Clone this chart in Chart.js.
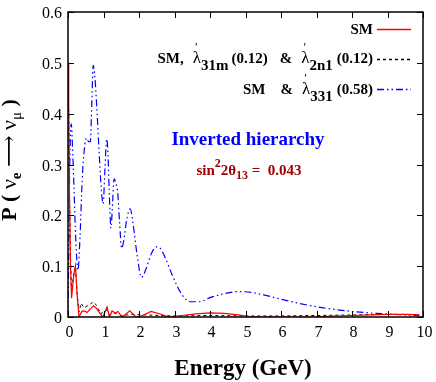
<!DOCTYPE html>
<html>
<head>
<meta charset="utf-8">
<script src="https://cdn.jsdelivr.net/npm/chart.js@4.4.0/dist/chart.umd.min.js"></script>
<style>
  html, body { margin: 0; padding: 0; background: #fff; }
  #wrap { width: 436px; height: 382px; }
</style>
</head>
<body>
<div id="wrap"><canvas id="chart"></canvas></div>
<script>
// tick values
const xTicks = [0, 1, 2, 3, 4, 5, 6, 7, 8, 9, 10];
const yTicks = [0, 0.1, 0.2, 0.3, 0.4, 0.5, 0.6];

// SM
const smEnergy = [0, 0.02, 0.04, 0.07, 0.1, 0.16, 0.21, 0.26, 0.31, 0.39, 0.47, 0.54, 0.63, 0.72, 0.79, 0.86, 0.93, 0.98, 1.04, 1.1, 1.17, 1.24, 1.33, 1.41, 1.52, 1.63, 1.74, 1.84, 1.92, 2.1, 2.34, 2.6, 2.84, 3.2, 3.6, 4.0, 4.4, 4.8, 5.1, 5.5, 6, 6.5, 7, 7.5, 8, 8.5, 9, 9.5, 9.9];
const smProb = [0.5, 0.42, 0.25, 0.1, 0.037, 0.08, 0.1, 0.04, 0.0, 0.011, 0.012, 0.009, 0.016, 0.022, 0.018, 0.011, 0.004, 0.0, 0.01, 0.02, 0.0, 0.012, 0.008, 0.011, 0.0, 0.006, 0.012, 0.005, 0.0, 0.003, 0.011, 0.006, 0.0, 0.003, 0.006, 0.008, 0.007, 0.004, 0.001, 0.0, 0.0, 0.0, 0.0005, 0.002, 0.003, 0.004, 0.005, 0.005, 0.004];

// SM, lambda'31m (0.12) & lambda'2n1 (0.12)
const rpvEnergy = [0, 0.02, 0.04, 0.07, 0.1, 0.16, 0.21, 0.26, 0.31, 0.37, 0.45, 0.55, 0.62, 0.7, 0.78, 0.86, 0.93, 1.0, 1.08, 1.17, 1.3, 1.5, 1.8, 2.2, 2.6, 3, 4, 5, 6, 7, 8, 9, 9.9];
const rpvProb = [0.48, 0.4, 0.25, 0.12, 0.05, 0.085, 0.1, 0.045, 0.01, 0.027, 0.018, 0.022, 0.024, 0.03, 0.025, 0.015, 0.006, 0.012, 0.014, 0.004, 0.008, 0.003, 0.005, 0.004, 0.003, 0.002, 0.003, 0.002, 0.002, 0.003, 0.004, 0.005, 0.005];

// SM & lambda'331 (0.58)
const l331Energy = [0, 0.02, 0.05, 0.09, 0.13, 0.17, 0.22, 0.28, 0.34, 0.4, 0.46, 0.52, 0.58, 0.63, 0.67, 0.71, 0.76, 0.82, 0.88, 0.94, 0.99, 1.04, 1.09, 1.12, 1.16, 1.21, 1.26, 1.3, 1.36, 1.4, 1.45, 1.51, 1.57, 1.65, 1.75, 1.84, 1.95, 2.07, 2.2, 2.35, 2.5, 2.6, 2.75, 2.95, 3.2, 3.45, 3.7, 4.0, 4.4, 4.8, 5.2, 5.6, 6.0, 6.5, 7.0, 7.5, 8.0, 8.5, 9.0, 9.5, 9.9];
const l331Prob = [0.0, 0.12, 0.3, 0.38, 0.33, 0.25, 0.15, 0.092, 0.16, 0.27, 0.33, 0.352, 0.345, 0.345, 0.42, 0.495, 0.47, 0.4, 0.32, 0.25, 0.223, 0.29, 0.35, 0.33, 0.25, 0.175, 0.23, 0.272, 0.26, 0.245, 0.19, 0.135, 0.15, 0.19, 0.213, 0.18, 0.12, 0.078, 0.095, 0.125, 0.138, 0.135, 0.115, 0.08, 0.045, 0.03, 0.03, 0.038, 0.046, 0.05, 0.048, 0.042, 0.035, 0.027, 0.02, 0.015, 0.011, 0.008, 0.006, 0.004, 0.003];

const SERIF = '"Liberation Serif", "DejaVu Serif", serif';
const RED = "#ff0000";
const BLUE = "#0000ff";
const DARKRED = "#a00000";
const DASH_BLUE = [7, 3, 1.5, 3, 1.5, 3];
const DASH_BLACK = [3, 3];

const toPoints = (xs, ys) => xs.map((x, i) => ({ x, y: ys[i] }));

// text made of pieces (sub/superscripts). over = don't advance, pad = extra px after
function richText(ctx, segs, x, y, align, color) {
  let w = 0;
  segs.forEach((s) => {
    ctx.font = `${s.weight || "bold"} ${s.size}px ${SERIF}`;
    if (!s.over) w += ctx.measureText(s.t).width + (s.pad || 0);
  });
  let cx = align === "right" ? x - w : align === "center" ? x - w / 2 : x;
  ctx.textBaseline = "alphabetic";
  ctx.textAlign = "left";
  segs.forEach((s) => {
    ctx.font = `${s.weight || "bold"} ${s.size}px ${SERIF}`;
    ctx.fillStyle = s.color || color;
    ctx.fillText(s.t, cx + (s.dx || 0), y + (s.dy || 0));
    if (!s.over) cx += ctx.measureText(s.t).width + (s.pad || 0);
  });
}

const lam = [
  { t: "λ", size: 17, weight: "normal" },
  { t: "′", size: 12, weight: "normal", dy: -12, dx: -6, over: true },
];

// frame, inward ticks, tick labels, legend, annotations and axis titles
const decorPlugin = {
  id: "decor",
  afterDatasetsDraw(chart) {
    const { ctx, chartArea: a, scales } = chart;
    ctx.save();

    // ticks pointing in, on all four sides, plus labels
    ctx.strokeStyle = "#000";
    ctx.lineWidth = 1;
    ctx.fillStyle = "#000";
    ctx.font = `16px ${SERIF}`;
    const tl = 6;
    xTicks.forEach((v) => {
      const px = Math.round(scales.x.getPixelForValue(v)) + 0.5;
      ctx.beginPath();
      ctx.moveTo(px, a.bottom); ctx.lineTo(px, a.bottom - tl);
      ctx.moveTo(px, a.top); ctx.lineTo(px, a.top + tl);
      ctx.stroke();
      ctx.textAlign = "center";
      ctx.textBaseline = "middle";
      ctx.fillText(String(v), px + 1, a.bottom + 16);
    });
    yTicks.forEach((v) => {
      const py = Math.round(scales.y.getPixelForValue(v)) + 0.5;
      ctx.beginPath();
      ctx.moveTo(a.left, py); ctx.lineTo(a.left + tl, py);
      ctx.moveTo(a.right, py); ctx.lineTo(a.right - tl, py);
      ctx.stroke();
      ctx.textAlign = "right";
      ctx.textBaseline = "middle";
      ctx.fillText(v === 0 ? "0" : v.toFixed(1), a.left - 6, py + 1);
    });
    ctx.lineWidth = 1.5;
    ctx.strokeRect(a.left, a.top, a.right - a.left, a.bottom - a.top);

    // legend
    const rows = [
      { y: 29, base: 34, color: RED, dash: [], segs: [{ t: "SM", size: 15 }] },
      {
        y: 59, base: 63, color: "#000", dash: DASH_BLACK,
        segs: [
          { t: "SM,", size: 15, pad: 9 },
          ...lam,
          { t: "31m", size: 15, dy: 7, pad: 3 },
          { t: "(0.12)", size: 15, pad: 12 },
          { t: "&", size: 15, pad: 9 },
          ...lam,
          { t: "2n1", size: 15, dy: 7, pad: 4 },
          { t: "(0.12)", size: 15 },
        ],
      },
      {
        y: 89, base: 94, color: BLUE, dash: DASH_BLUE,
        segs: [
          { t: "SM", size: 15, pad: 15 },
          { t: "&", size: 15, pad: 9 },
          ...lam,
          { t: "331", size: 15, dy: 7, pad: 4 },
          { t: "(0.58)", size: 15 },
        ],
      },
    ];
    rows.forEach((r) => {
      ctx.save();
      ctx.strokeStyle = r.color;
      ctx.lineWidth = 1.3;
      ctx.setLineDash(r.dash);
      ctx.beginPath();
      ctx.moveTo(377, r.y + 0.5);
      ctx.lineTo(411, r.y + 0.5);
      ctx.stroke();
      ctx.restore();
      richText(ctx, r.segs, 373, r.base, "right", "#000");
    });

    // annotations
    richText(ctx, [{ t: "Inverted hierarchy", size: 19 }], 248, 145, "center", BLUE);
    richText(ctx, [
      { t: "sin", size: 15 },
      { t: "2", size: 12, dy: -8 },
      { t: "2θ", size: 15 },
      { t: "13", size: 12, dy: 4 },
      { t: " =  0.043", size: 15 },
    ], 249, 175, "center", DARKRED);

    // axis titles
    richText(ctx, [{ t: "Energy (GeV)", size: 23 }], 243, 375, "center", "#000");
    ctx.translate(16, 160);
    ctx.rotate(-Math.PI / 2);
    richText(ctx, [
      { t: "P ( ", size: 22 },
      { t: "ν", size: 22, weight: "normal" },
      { t: "e", size: 15, dy: 5 },
      { t: " ⟶ ", size: 22, weight: "normal" },
      { t: "ν", size: 22, weight: "normal" },
      { t: "μ", size: 15, dy: 5, weight: "normal" },
      { t: " )", size: 22 },
    ], 0, 0, "center", "#000");
    ctx.restore();
  },
};

new Chart(document.getElementById("chart"), {
  type: "line",
  data: {
    datasets: [
      {
        label: "SM",
        data: toPoints(smEnergy, smProb),
        borderColor: RED,
        borderWidth: 1.2,
        pointRadius: 0,
        tension: 0,
      },
      {
        label: "SM, λ'31m (0.12) & λ'2n1 (0.12)",
        data: toPoints(rpvEnergy, rpvProb),
        borderColor: "#000",
        borderWidth: 1,
        borderDash: DASH_BLACK,
        pointRadius: 0,
        tension: 0,
      },
      {
        label: "SM & λ'331 (0.58)",
        data: toPoints(l331Energy, l331Prob),
        borderColor: BLUE,
        borderWidth: 1.2,
        borderDash: DASH_BLUE,
        pointRadius: 0,
        cubicInterpolationMode: "monotone",
      },
    ],
  },
  options: {
    responsive: true,
    maintainAspectRatio: false,
    animation: false,
    layout: { padding: { top: 12, right: 13, left: 0, bottom: 0 } },
    plugins: { legend: { display: false }, tooltip: { enabled: false } },
    scales: {
      x: {
        type: "linear",
        min: 0,
        max: 10,
        afterBuildTicks: (s) => { s.ticks = xTicks.map((v) => ({ value: v })); },
        afterFit: (s) => { s.height = 65; },
        grid: { display: false, drawTicks: false },
        border: { display: false },
        ticks: { display: false },
      },
      y: {
        min: 0,
        max: 0.6,
        afterBuildTicks: (s) => { s.ticks = yTicks.map((v) => ({ value: v })); },
        afterFit: (s) => { s.width = 68; },
        grid: { display: false, drawTicks: false },
        border: { display: false },
        ticks: { display: false },
      },
    },
  },
  plugins: [decorPlugin],
});
</script>
</body>
</html>
